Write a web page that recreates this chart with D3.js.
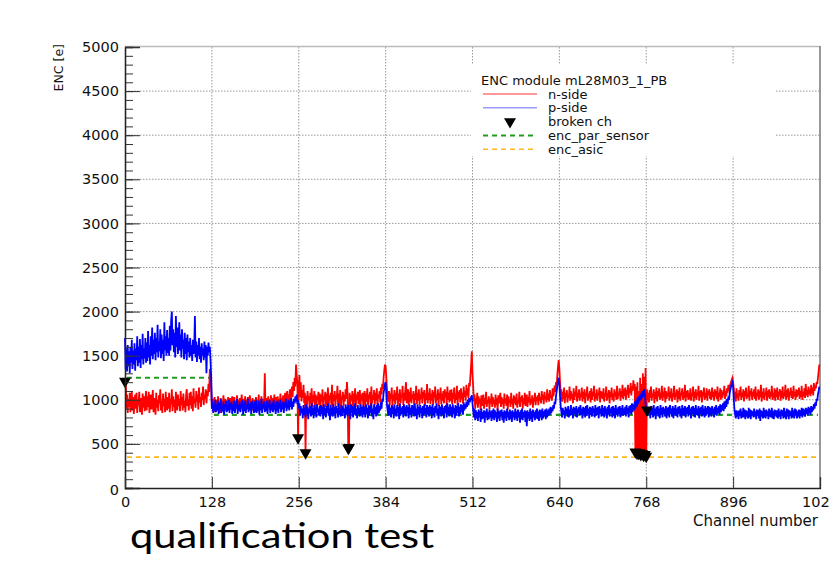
<!DOCTYPE html>
<html>
<head>
<meta charset="utf-8">
<script src="https://cdn.jsdelivr.net/npm/d3@7"></script>
<style>
body { margin: 0; background: #fff; }
text { font-family: "DejaVu Sans", sans-serif; fill: #111; }
</style>
</head>
<body>
<svg></svg>
<script>
// ENC per channel, n-side (red), channels 0..1023
const nSide = [
1210,1250,900,1060,850,1010,920,1080,860,990,1100,880,1030,840,970,1060,900,1080,850,1000,940,1090,860,1020,950,830,1070,910,1040,870,990,1100,
880,1040,920,1090,850,1000,1060,890,970,1110,860,1020,940,830,1080,910,1000,870,1050,960,1120,880,990,850,1070,930,1010,860,1090,940,880,1030,
900,1080,860,1010,950,1120,870,1040,920,1000,850,1090,960,880,1060,930,1010,870,1100,940,1030,880,1070,910,990,860,1050,1120,930,1000,880,1080,
940,1090,900,1040,870,1130,960,1010,910,1100,980,1060,890,1140,970,1030,920,1080,1000,1150,940,1060,1010,1120,960,1100,1040,1180,1090,1350,1280,1150,
900,1010,870,980,1030,860,960,1000,880,1040,910,970,850,1020,930,990,890,1050,920,960,1010,870,990,940,1030,880,960,1020,900,980,1040,910,
960,1030,880,990,920,1050,890,1000,940,1020,870,980,1060,900,970,1010,880,1040,950,1000,890,1030,920,990,1050,910,970,880,1020,940,1000,960,
890,1030,940,1000,870,1060,920,990,950,1040,880,1010,930,970,1300,900,1020,950,880,1040,960,1000,890,1050,930,990,1020,880,1060,950,910,1030,
970,1040,900,1010,950,1070,890,1020,960,1050,910,1000,1080,940,1030,1100,960,1060,1000,1120,980,1090,1150,1030,1200,1100,1250,1150,1400,1280,1180,570,
1150,1280,1030,1200,980,1110,1020,1170,960,1080,400,1050,920,1100,990,1040,900,1080,960,1130,920,1050,980,1100,930,1060,890,1040,1000,1090,940,1070,
910,1060,980,1120,900,1040,1000,1090,920,1070,960,1140,890,1050,1010,1080,940,1170,900,1060,990,1100,930,1050,1010,1160,920,1070,960,1110,900,1040,
1000,1090,930,1060,980,1120,1010,1200,1060,450,460,1080,940,1050,990,1100,910,1070,970,1130,920,1060,1000,1090,950,1040,1110,920,1060,990,1080,940,
1030,1100,920,1070,980,1130,940,1060,1010,1090,930,1150,960,1050,1000,1110,940,1080,990,1130,920,1060,1020,1100,970,1140,1060,1180,1120,1250,1330,1400,
1380,1260,1120,1050,980,1100,940,1070,1010,1140,920,1060,990,1110,950,1080,1000,1150,930,1070,980,1120,960,1050,1030,1160,940,1080,990,1110,1200,960,
1050,1120,940,1090,980,1140,960,1060,1010,1100,930,1070,1000,1160,950,1080,990,1120,940,1060,1010,1140,960,1090,1020,1110,930,1070,1000,1180,960,1080,
1000,1130,950,1070,990,1110,940,1090,1020,1150,960,1060,1000,1120,930,1080,1010,1140,950,1070,990,1100,960,1120,1030,1090,940,1150,1000,1080,970,1110,
990,1120,950,1080,1010,1140,960,1070,1000,1160,940,1090,1020,1110,970,1130,1010,1080,960,1150,1030,1100,990,1170,1050,1130,1020,1190,1150,1280,1400,1550,
1300,1150,980,1060,900,1020,950,1080,910,1040,960,1010,880,1050,930,990,1060,900,1020,950,1090,920,1000,960,1040,890,1010,960,1070,920,1030,950,
1000,910,1060,940,1020,880,1050,960,990,1080,920,1030,950,1010,900,1070,960,1020,930,1060,890,1040,970,1000,920,1080,950,1010,900,1050,960,1030,
940,1070,910,1000,960,1090,920,1030,980,1050,900,1020,950,1080,930,1000,1060,920,1030,970,1100,940,1010,960,1050,910,1020,980,1080,940,1030,990,
1050,940,1080,990,1030,960,1100,1000,1060,950,1090,1010,1040,970,1120,1000,1070,980,1110,1020,1050,990,1130,1040,1080,1160,1090,1200,1150,1280,1380,1450,
1350,1200,1060,1120,980,1090,1010,1140,960,1080,1030,1110,970,1060,1020,1150,990,1100,1010,1070,960,1130,1000,1090,1040,1160,980,1080,1020,1120,990,1070,
1030,1140,980,1090,1010,1120,960,1080,1040,1150,990,1070,1020,1100,970,1130,1000,1090,1040,1160,980,1070,1010,1120,990,1080,1050,1140,970,1100,1020,1090,
1010,1130,980,1070,1040,1150,990,1080,1020,1110,960,1090,1030,1140,1000,1070,980,1120,1040,1090,1000,1160,1010,1080,1050,1130,990,1100,1030,1170,1010,1120,
1040,1140,1000,1110,1060,1170,1020,1130,1080,1190,1050,1150,1100,1220,1130,1180,410,1150,400,1200,390,1100,400,1250,380,1180,390,1300,370,1260,380,1360,
360,1120,1000,1080,970,1110,1020,1150,990,1070,1030,1120,960,1090,1010,1140,980,1100,1040,1130,1000,1080,1020,1160,990,1090,1030,1140,970,1100,1010,1080,
1040,1150,990,1090,1020,1130,980,1070,1030,1160,1000,1080,1040,1120,970,1100,1010,1140,990,1080,1050,1130,1000,1090,1020,1170,980,1100,1030,1110,1000,1080,
1010,1130,990,1070,1040,1150,980,1090,1020,1120,1000,1080,1050,1160,990,1100,1030,1110,970,1090,1040,1140,1000,1080,1020,1130,990,1100,1050,1120,1010,1090,
1000,1140,1030,1090,990,1120,1040,1100,1010,1150,980,1080,1030,1130,1000,1110,1020,1090,1050,1160,1010,1100,1040,1130,1080,1170,1100,1150,1180,1200,1230,1250,
1200,1120,1010,1090,980,1130,1020,1070,990,1110,1040,1150,1000,1080,1030,1120,980,1100,1040,1140,1010,1070,1030,1160,990,1100,1050,1130,1000,1090,1040,1120,
1010,1150,990,1080,1040,1120,1000,1100,1030,1170,980,1090,1020,1130,1000,1080,1050,1140,990,1100,1030,1120,1010,1090,1040,1160,1000,1080,1020,1130,990,1110,
1030,1140,1000,1090,1050,1120,990,1100,1020,1150,1010,1080,1040,1170,1000,1110,1030,1130,990,1090,1050,1140,1020,1100,1010,1160,1040,1090,1000,1120,1030,1110,
1050,1140,1010,1100,1030,1160,1000,1090,1040,1130,1020,1180,1050,1110,1030,1150,1060,1120,1040,1170,1070,1140,1050,1190,1100,1160,1130,1200,1180,1250,1320,1400
];

// ENC per channel, p-side (blue), channels 0..1023
const pSide = [
1700,1350,1580,1320,1620,1380,1550,1300,1600,1420,1680,1350,1560,1400,1640,1330,1580,1450,1720,1380,1600,1420,1690,1360,1620,1460,1750,1400,1580,1470,1700,1420,
1650,1440,1780,1480,1620,1400,1720,1500,1820,1460,1680,1520,1760,1450,1700,1540,1850,1480,1660,1550,1800,1470,1740,1520,1680,1440,1880,1560,1720,1500,1790,1530,
1700,1500,1840,1560,1900,2000,1620,1800,1540,1760,1480,1950,1600,1820,1520,1700,1880,1560,1740,1480,1800,1580,1680,1460,1760,1520,1700,1450,1740,1540,1660,1480,
1700,1500,1620,1440,1680,1520,1600,1950,1480,1660,1430,1620,1500,1700,1460,1600,1420,1640,1500,1580,1450,1660,1480,1620,1300,1600,1500,1650,1540,1600,1450,1250,
900,980,850,940,870,1000,860,950,880,990,840,960,900,1010,850,930,870,980,830,950,910,990,860,940,880,1000,850,960,890,980,840,950,
870,990,850,960,900,1010,840,940,880,980,860,950,910,1000,830,960,870,990,850,940,900,1010,860,950,880,970,840,990,900,960,850,980,
860,1000,850,940,890,990,830,960,880,1010,850,950,900,980,860,940,870,990,840,960,910,1000,850,950,880,970,860,1000,890,950,840,980,
870,990,850,960,900,1000,860,950,890,980,850,970,910,1010,870,960,900,1000,880,990,920,1020,890,980,920,1010,960,1040,980,1060,950,1000,
900,960,820,930,850,900,790,940,830,910,800,950,840,920,780,900,850,930,810,960,830,910,790,940,840,920,800,950,860,900,820,930,
810,940,840,920,780,950,830,910,800,930,850,960,820,900,770,940,830,910,810,950,840,920,790,930,850,910,800,960,830,900,810,940,
820,930,850,900,790,950,830,920,810,940,840,910,780,950,850,930,800,920,830,960,820,900,790,940,840,910,810,950,830,920,800,940,
830,920,800,950,840,910,790,940,820,930,850,960,810,900,780,950,840,920,810,940,830,960,850,930,880,970,900,1010,980,1080,1120,1180,
1200,1080,940,880,820,950,830,910,800,940,840,920,790,950,830,900,810,940,850,920,780,960,820,910,840,930,800,950,830,920,810,940,
850,920,790,950,830,910,800,940,840,930,810,960,820,900,780,950,830,920,800,940,850,910,790,930,820,950,840,910,800,940,830,920,
810,940,840,920,790,950,830,910,800,930,850,960,820,900,780,940,840,920,810,950,830,910,790,930,850,940,800,960,830,920,810,950,
830,920,800,950,840,910,790,940,820,930,850,960,810,920,840,950,860,940,830,970,880,950,900,980,920,1000,940,1020,970,1010,1030,1050,
960,880,800,900,770,880,790,860,760,890,800,870,750,900,780,860,790,880,740,870,800,900,770,860,780,890,800,870,760,880,790,900,
770,880,800,860,750,900,790,870,760,880,810,890,770,860,740,880,790,870,760,900,800,860,770,890,780,870,750,880,800,860,770,900,
790,870,760,890,800,860,740,880,780,900,770,860,800,880,750,870,700,880,790,860,760,900,780,870,750,890,800,860,770,880,790,900,
780,870,760,890,800,880,770,900,790,870,810,890,780,900,800,880,820,900,830,920,850,910,870,940,900,980,950,1040,1100,1160,1220,1250,
1180,1040,920,860,800,910,830,880,790,920,840,900,810,930,800,890,820,940,830,900,790,920,840,910,810,930,800,900,850,920,820,940,
830,900,790,920,840,910,800,930,820,940,840,900,790,920,830,910,810,930,850,900,800,940,820,910,830,920,790,930,840,900,810,940,
820,910,800,930,840,900,790,920,830,940,810,900,850,920,800,930,820,910,790,940,830,900,810,920,840,930,800,910,830,940,820,900,
830,920,810,940,840,910,800,930,850,940,830,960,860,950,880,980,900,1000,920,1020,950,1040,980,1060,1000,1080,1020,1100,1040,1120,1060,950,
900,886,820,910,840,900,790,930,830,910,800,940,820,900,780,920,840,930,810,900,790,940,830,910,800,920,840,900,810,930,790,910,
830,920,800,940,840,900,810,930,790,910,830,940,820,900,800,920,840,930,810,900,790,940,830,910,820,930,800,910,840,920,810,940,
830,900,790,920,840,930,810,910,800,940,830,900,820,930,790,910,840,920,810,940,830,900,800,930,820,910,840,930,800,920,830,910,
810,930,840,900,800,920,830,940,820,910,850,930,830,950,860,940,880,960,870,980,900,990,920,1010,950,1040,1000,1080,1120,1150,1180,1200,
1150,1000,890,830,790,880,810,870,780,880,820,900,790,870,800,910,800,890,780,880,810,870,790,910,800,890,780,880,820,870,800,900,
810,870,780,890,820,880,790,900,760,880,810,870,790,910,800,880,790,890,820,870,780,900,810,880,800,910,790,870,780,890,820,880,
800,880,790,900,810,870,780,890,820,880,790,910,800,870,780,900,810,890,780,880,820,870,790,910,800,880,790,900,820,890,790,870,
810,890,790,880,820,910,800,900,830,890,810,910,840,900,820,920,850,910,830,930,860,920,880,950,900,970,930,1010,990,1060,1100,1150
];

// broken channels and their ENC
const brokenCh  = [0, 255, 266, 329, 330, 752, 754, 756, 758, 760, 762, 764, 766, 768, 769];
const brokenEnc = [1210, 570, 400, 450, 460, 410, 400, 390, 400, 380, 390, 370, 380, 360, 886];

// reference levels
const sensorFrom = [0, 128];
const sensorTo   = [128, 1024];
const sensorEnc  = [1250, 830];
const asicEnc    = 350;

const xTicks = [0, 128, 256, 384, 512, 640, 768, 896, 1024];
const yTicks = [0, 500, 1000, 1500, 2000, 2500, 3000, 3500, 4000, 4500, 5000];
const yMinor = d3.range(0, 5001, 100);

const legendTitle = "ENC module mL28M03_1_PB";
const legendNames = ["n-side", "p-side", "broken ch", "enc_par_sensor", "enc_asic"];

const svg = d3.select("svg")
    .attr("width", 830)
    .attr("height", 563);

const x = d3.scaleLinear().domain([0, 1024]).range([125, 820]);
const y = d3.scaleLinear().domain([0, 5000]).range([488, 47]);

// grid
svg.append("g").selectAll("line")
    .data(yTicks.slice(1, -1))
    .enter().append("line")
    .attr("x1", 125).attr("x2", 820)
    .attr("y1", d => y(d)).attr("y2", d => y(d))
    .attr("stroke", "#999").attr("stroke-dasharray", "1.5,1.5");

svg.append("g").selectAll("line")
    .data(xTicks.slice(1, -1))
    .enter().append("line")
    .attr("y1", 47).attr("y2", 488)
    .attr("x1", d => x(d)).attr("x2", d => x(d))
    .attr("stroke", "#999").attr("stroke-dasharray", "1.5,1.5");

// frame top/right
svg.append("line").attr("x1", 125).attr("x2", 820).attr("y1", 46.5).attr("y2", 46.5)
    .attr("stroke", "#bbb").attr("stroke-width", 1.5);
svg.append("line").attr("x1", 820).attr("x2", 820).attr("y1", 46).attr("y2", 488)
    .attr("stroke", "#777").attr("stroke-width", 1.5);

// legend box (white, hides grid)
svg.append("rect").attr("x", 471).attr("y", 64).attr("width", 305).attr("height", 92).attr("fill", "#fff");

// reference level lines
svg.append("g").selectAll("line")
    .data(sensorEnc)
    .enter().append("line")
    .attr("x1", (d, i) => x(sensorFrom[i]) + 2)
    .attr("x2", (d, i) => x(sensorTo[i]) - 2)
    .attr("y1", d => y(d)).attr("y2", d => y(d))
    .attr("stroke", "#1f9e1f").attr("stroke-width", 2.2).attr("stroke-dasharray", "5,4");

svg.append("line")
    .attr("x1", x(0) + 2).attr("x2", x(1024) - 2)
    .attr("y1", y(asicEnc)).attr("y2", y(asicEnc))
    .attr("stroke", "#ffb81c").attr("stroke-width", 1.8).attr("stroke-dasharray", "5,4");

// data lines
const line = d3.line().x((d, i) => x(i)).y(d => y(d));

svg.append("path").datum(nSide)
    .attr("d", line).attr("fill", "none")
    .attr("stroke", "#ff0000").attr("stroke-width", 1.8);

svg.append("path").datum(pSide)
    .attr("d", line).attr("fill", "none")
    .attr("stroke", "#0000ff").attr("stroke-width", 1.8);

// broken channel markers
const tri = d3.symbol().type(d3.symbolTriangle).size(62);
svg.append("g").selectAll("path")
    .data(brokenCh)
    .enter().append("path")
    .attr("d", tri)
    .attr("transform", (d, i) => `translate(${x(d)},${y(brokenEnc[i])}) rotate(180)`)
    .attr("fill", "#000");

// axes
const yAxisMinor = svg.append("g")
    .attr("transform", "translate(125,0)")
    .call(d3.axisLeft(y).tickValues(yMinor).tickSize(-8).tickFormat(""));
const yAxis = svg.append("g")
    .attr("transform", "translate(125,0)")
    .call(d3.axisLeft(y).tickValues(yTicks).tickSize(-15).tickPadding(6).tickFormat(d3.format("d")));
const xAxis = svg.append("g")
    .attr("transform", "translate(0,488)")
    .call(d3.axisBottom(x).tickValues(xTicks).tickSize(-11).tickPadding(9).tickFormat(d3.format("d")));

[yAxisMinor, yAxis, xAxis].forEach(g => {
    g.select(".domain").attr("stroke", "#222").attr("stroke-width", 1.3);
    g.selectAll(".tick line").attr("stroke", "#333");
    g.selectAll("text").style("font-family", "DejaVu Sans").style("font-size", "14.5px").attr("fill", "#111");
});
yAxis.selectAll(".tick").filter(d => d === 0).select("text").attr("dy", "0.45em");

svg.append("text")
    .attr("transform", "translate(63,44) rotate(-90)")
    .attr("text-anchor", "end")
    .style("font-size", "12.5px")
    .text("ENC [e]");

svg.append("text")
    .attr("x", 818).attr("y", 526)
    .attr("text-anchor", "end")
    .style("font-size", "15px")
    .text("Channel number");

// legend
const lg = svg.append("g");
lg.append("text").attr("x", 481).attr("y", 85).style("font-size", "13px").text(legendTitle);

const rowY = d => 94 + d * 13.8;
const entry = lg.selectAll(".entry")
    .data(legendNames)
    .enter().append("g")
    .attr("transform", (d, i) => `translate(0,${rowY(i)})`);

entry.append("text")
    .attr("x", 548).attr("y", 4.5)
    .style("font-size", "13px")
    .text(d => d);

const legendStyles = [
    { stroke: "#ff7777", w: 1.5, dash: null },
    { stroke: "#9999ff", w: 1.5, dash: null },
    null,
    { stroke: "#1f9e1f", w: 2, dash: "5,4" },
    { stroke: "#ffb81c", w: 1.6, dash: "5,4" }
];
entry.each(function(d, i) {
    const s = legendStyles[i];
    const g = d3.select(this);
    if (s) {
        g.append("line").attr("x1", 483).attr("x2", 537).attr("y1", 0).attr("y2", 0)
            .attr("stroke", s.stroke).attr("stroke-width", s.w)
            .attr("stroke-dasharray", s.dash);
    } else {
        g.append("path").attr("d", tri).attr("transform", "translate(510,0) rotate(180)").attr("fill", "#000");
    }
});

// caption
svg.append("text")
    .attr("transform", "translate(130,548) scale(1.19,1)")
    .style("font-family", "Lato")
    .style("font-size", "35px")
    .style("fill", "#000")
    .text("qualification test");
</script>
</body>
</html>
